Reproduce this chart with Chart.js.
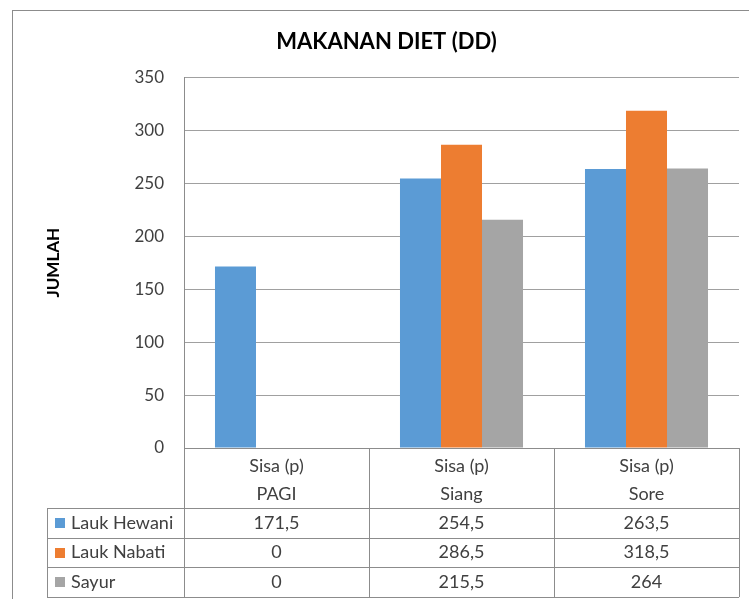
<!DOCTYPE html>
<html>
<head>
<meta charset="utf-8">
<title>Makanan Diet (DD)</title>
<script src="https://cdn.jsdelivr.net/npm/chart.js@4.4.1/dist/chart.umd.min.js"></script>
<style>
  html, body { margin: 0; padding: 0; background: #fff; }
  #wrap { width: 749px; height: 599px; position: relative; }
</style>
</head>
<body>
<div id="wrap"><canvas id="dietChart"></canvas></div>
<script>
const categories = ['PAGI', 'Siang', 'Sore'];
const groupLabel = 'Sisa (p)';
const laukHewani = [171.5, 254.5, 263.5];
const laukNabati = [0, 286.5, 318.5];
const sayur = [0, 215.5, 264];
const seriesNames = ['Lauk Hewani', 'Lauk Nabati', 'Sayur'];
const seriesColors = ['#5B9BD5', '#ED7D31', '#A5A5A5'];
const yTicks = [0, 50, 100, 150, 200, 250, 300, 350];

const FONT = 'Lato, "Open Sans", sans-serif';
const TEXT = '#404040';
const LINE = '#8c8c8c';

const fmt = (v) => String(v).replace('.', ',');

// outer frame of the chart object (runs off the right/bottom edge)
const framePlugin = {
  id: 'frame',
  beforeDraw(chart) {
    const { ctx } = chart;
    ctx.save();
    ctx.strokeStyle = LINE;
    ctx.lineWidth = 1;
    ctx.strokeRect(12.5, 10.5, 800, 700);
    ctx.restore();
  },
};

// Excel style data table below the plot
const dataTablePlugin = {
  id: 'dataTable',
  afterDraw(chart) {
    const { ctx, chartArea } = chart;
    const x = chart.scales.x;
    const seriesValues = [laukHewani, laukNabati, sayur];
    const colW = x.width / categories.length;
    const tableLeft = 47;
    const headTop = chartArea.bottom;
    const headBottom = x.bottom;
    const rowH = 29.7;
    const tableBottom = headBottom + rowH * seriesNames.length;

    ctx.save();
    ctx.strokeStyle = LINE;
    ctx.lineWidth = 1;
    ctx.beginPath();
    // column dividers
    for (let i = 0; i <= categories.length; i++) {
      const cx = Math.round(chartArea.left + colW * i) + 0.5;
      ctx.moveTo(cx, headTop);
      ctx.lineTo(cx, tableBottom);
    }
    ctx.moveTo(tableLeft + 0.5, headBottom);
    ctx.lineTo(tableLeft + 0.5, tableBottom);
    // row lines
    for (let r = 0; r <= seriesNames.length; r++) {
      const ry = Math.round(headBottom + rowH * r) + 0.5;
      ctx.moveTo(tableLeft, ry);
      ctx.lineTo(chartArea.right, ry);
    }
    ctx.stroke();

    ctx.font = `18px ${FONT}`;
    ctx.textBaseline = 'middle';
    seriesNames.forEach((name, r) => {
      const cy = headBottom + rowH * r + rowH / 2;
      ctx.fillStyle = seriesColors[r];
      ctx.fillRect(55, Math.round(cy) - 5, 10, 10);
      ctx.fillStyle = TEXT;
      ctx.textAlign = 'left';
      ctx.fillText(name, 71, cy);
      ctx.textAlign = 'center';
      seriesValues[r].forEach((v, i) => {
        ctx.fillText(fmt(v), x.getPixelForValue(i), cy);
      });
    });
    ctx.restore();
  },
};

new Chart(document.getElementById('dietChart'), {
  type: 'bar',
  data: {
    labels: categories.map((c) => [groupLabel, c]),
    datasets: [laukHewani, laukNabati, sayur].map((data, i) => ({
      label: seriesNames[i],
      data,
      backgroundColor: seriesColors[i],
      borderWidth: 0,
      categoryPercentage: 0.665,
      barPercentage: 1,
    })),
  },
  options: {
    responsive: true,
    maintainAspectRatio: false,
    animation: false,
    layout: { padding: { left: 34, right: 10, top: 0, bottom: 91 } },
    plugins: {
      legend: { display: false },
      tooltip: { enabled: false },
      title: {
        display: true,
        text: 'MAKANAN DIET (DD)',
        color: '#000',
        font: { family: FONT, size: 22, weight: 'bold' },
        padding: { top: 29, bottom: 22 },
      },
    },
    scales: {
      x: {
        afterFit: (scale) => { scale.height = 60; },
        grid: { display: false },
        border: { display: true, color: LINE },
        ticks: {
          color: TEXT,
          padding: -4,
          maxRotation: 0,
          font: { family: FONT, size: 18, lineHeight: 1.55 },
        },
      },
      y: {
        min: yTicks[0],
        max: yTicks[yTicks.length - 1],
        afterFit: (scale) => { scale.width = 150; },
        afterBuildTicks: (scale) => { scale.ticks = yTicks.map((v) => ({ value: v })); },
        grid: { color: '#a0a0a0', drawTicks: false },
        border: { display: true, color: LINE },
        ticks: {
          color: TEXT,
          padding: 20,
          font: { family: FONT, size: 17 },
        },
        title: {
          display: true,
          text: 'JUMLAH',
          color: '#000',
          font: { family: FONT, size: 17, weight: 'bold' },
          padding: { top: 9, bottom: 0 },
        },
      },
    },
  },
  plugins: [framePlugin, dataTablePlugin],
});
</script>
</body>
</html>
